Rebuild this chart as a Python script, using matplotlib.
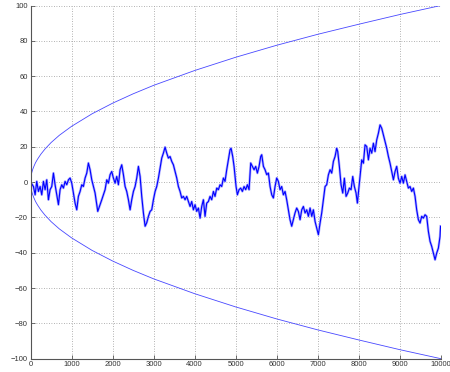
import numpy as np
import matplotlib
matplotlib.use("Agg")
import matplotlib.pyplot as plt

# random walk (step, position)
walk_step = [0, 69, 110, 150, 191, 232, 272, 313, 354, 394, 435, 475, 516, 557, 597, 638, 679, 719,
             760, 801, 841, 882, 923, 963, 1004, 1045, 1085, 1126, 1166, 1207, 1248, 1288, 1329, 1370,
             1410, 1451, 1492, 1532, 1573, 1614, 1638, 1695, 1736, 1776, 1817, 1858, 1898, 1939, 1979,
             2020, 2061, 2101, 2142, 2183, 2223, 2264, 2305, 2345, 2386, 2427, 2467, 2508, 2549, 2589,
             2630, 2671, 2711, 2752, 2793, 2833, 2874, 2915, 2955, 2996, 3037, 3077, 3118, 3159, 3199,
             3239, 3280, 3321, 3361, 3402, 3443, 3483, 3524, 3565, 3605, 3646, 3686, 3727, 3768, 3808,
             3849, 3890, 3930, 3971, 4012, 4052, 4093, 4134, 4174, 4215, 4255, 4296, 4337, 4377, 4418,
             4459, 4499, 4540, 4581, 4621, 4662, 4703, 4743, 4784, 4825, 4865, 4890, 4930, 4963, 5012,
             5044, 5085, 5125, 5166, 5207, 5247, 5288, 5329, 5369, 5410, 5451, 5491, 5532, 5573, 5613,
             5638, 5679, 5719, 5760, 5801, 5841, 5882, 5922, 5963, 6004, 6044, 6085, 6125, 6166, 6207,
             6247, 6288, 6328, 6369, 6410, 6450, 6491, 6532, 6573, 6614, 6654, 6695, 6736, 6776, 6817,
             6858, 6898, 6939, 6980, 7020, 7061, 7101, 7142, 7183, 7223, 7264, 7305, 7345, 7386, 7427,
             7467, 7492, 7532, 7573, 7614, 7654, 7695, 7736, 7776, 7817, 7858, 7898, 7939, 7971, 7996,
             8036, 8077, 8118, 8158, 8199, 8240, 8280, 8321, 8362, 8402, 8443, 8484, 8524, 8565, 8606,
             8646, 8687, 8728, 8768, 8809, 8850, 8890, 8931, 8971, 9012, 9053, 9093, 9134, 9175, 9215,
             9256, 9297, 9337, 9378, 9418, 9459, 9500, 9540, 9581, 9622, 9662, 9703, 9744, 9784, 9825,
             9866, 9906, 9947, 9987, 10000]
walk_pos = [0, -2.5, -7.2, 0.4, -5.3, -2.5, -7.2, 0.4, -4.3, 1.3, -10, -4.3, -2.5, 5.1, -1.5, -7.2, -12.8, -4.3,
            -1.5, -3.4, 0.4, -1.5, 1.3, 2.3, -0.6, -6.2, -11.9, -15.7, -8.1, -5.3, -1.5, -2.5, 2.3, 5.1,
            10.8, 7, 1.3, -2.5, -6.2, -12.8, -16.6, -12.8, -10, -7.2, -4.3, 1.3, -0.6, 4.2, 6,
            2.3, -0.6, 3.2, -1.5, 7, 9.8, 4.2, -2.5, -5.3, -10, -15.7, -10, -5.3, -2.5, 2.3,
            8.9, 3.2, -8.1, -17.5, -25, -23, -19.4, -16.6, -15.7, -10, -5.3, -2.5, 2.3, 8, 13.6,
            16.4, 19.8, 16.4, 13.6, 14.5, 11.7, 9.8, 6, 2.3, -2.5, -5.3, -9, -8.1, -10, -8.1,
            -11, -13.8, -11, -15.7, -12.8, -16.6, -14.7, -20.4, -13.8, -10, -19.4, -11.9, -11, -8.1, -10,
            -5.3, -8.1, -3.4, -4.3, -1.5, -2.5, 2.3, 0.4, 7, 12.6, 18.3, 19.2, 14.5, 8.9, -2.5,
            -7.2, -4.3, -3.4, -5.3, -2.5, -4.3, -1.5, -4.3, 10.8, 8.9, 7, 8.9, 5.1, 8.9, 14.5,
            15.5, 8.9, 7, 4.2, 5.1, -2.5, -7.2, -9, -2.5, 2.3, 0.4, -4.3, -2.5, -7.2, -5.3,
            -10, -15.7, -21.3, -25, -21.3, -17.5, -14.7, -16.6, -21.3, -15.7, -13.8, -17.5, -15.7, -19.4, -14.7,
            -19.4, -15.7, -22.3, -26.1, -29.8, -23.2, -17.5, -10, -2.5, -1.5, 4.1, 7, 5.1, 11.7, 14.5,
            19.2, 17.3, 8.9, -1.5, -6.2, 2.2, -8.1, -6.2, -3.4, -4.3, 3.2, -2.5, -6.2, -11.9, -6.2,
            3.2, 12.6, 10.7, 21.1, 20.2, 12.6, 19.2, 16.4, 22, 17.3, 23.9, 27.7, 32.4, 30.5, 26.8,
            23, 19.2, 14.5, 10.7, 6, 1.3, 6, 8.9, 2.2, -0.6, 3.2, -0.6, 4.1, 0.4, -3.4,
            -2.5, -5.3, -3.4, -8.1, -15.7, -21.3, -23.2, -19.4, -20.4, -18.5, -19.4, -27.9, -33.6, -36.4, -40.2,
            -44, -40.2, -37.4, -30.8, -25]

# envelope
env_step = [0, 5, 15, 30, 50, 80, 120, 170, 250, 350, 500, 700, 1000, 1500, 2000, 2500, 3000,
            4000, 5000, 6000, 7000, 8000, 9000, 10000]
env_upper = [0, 2.2, 3.9, 5.5, 7.1, 8.9, 11, 13, 15.8, 18.7, 22.4, 26.5, 31.6, 38.7, 44.7, 50, 54.8,
             63.2, 70.7, 77.5, 83.7, 89.4, 94.9, 100]
env_lower = [-v for v in env_upper]

plt.rcParams["font.family"] = ["Liberation Sans", "DejaVu Sans"]

fig, ax = plt.subplots(figsize=(4.5, 3.72), dpi=100)
fig.subplots_adjust(left=0.068, right=0.979, top=0.985, bottom=0.036)

ax.plot(env_step, env_upper, color="#4848ff", lw=0.6)
ax.plot(env_step, env_lower, color="#4848ff", lw=0.6)
# fuzzy look of the dense walk: light halo under the main line
ax.plot(walk_step, walk_pos, color="#b0b0ff", lw=1.8)
ax.plot(walk_step, walk_pos, color="#0000ff", lw=0.8)

ax.set_xlim(0, 10000)
ax.set_ylim(-100, 100)
ax.set_xticks(np.arange(0, 10001, 1000))
ax.set_yticks(np.arange(-100, 101, 20))
ax.grid(True, color="#999999", linestyle=(0, (1, 2)), lw=0.6)

for s in ["top", "right"]:
    ax.spines[s].set_visible(False)
for s in ["left", "bottom"]:
    ax.spines[s].set_color("#555555")
    ax.spines[s].set_linewidth(0.8)
ax.tick_params(direction="in", length=3, width=0.6, color="#555555",
               labelsize=5.5, labelcolor="#333333", pad=2)

plt.savefig("out.png", dpi=100)
